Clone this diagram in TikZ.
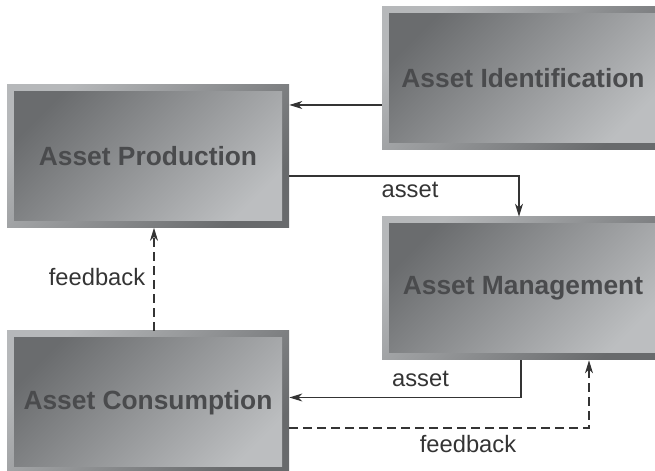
\documentclass[tikz,border=0pt]{standalone}
\usepackage{fontspec}
\setmainfont{Liberation Sans}
\usepackage{tikz}
\usetikzlibrary{arrows.meta,positioning,calc}
\definecolor{framelt}{RGB}{182,184,186}
\definecolor{framedk}{RGB}{104,106,108}
\definecolor{boxdk}{RGB}{106,108,110}
\definecolor{boxlt}{RGB}{188,190,192}
\definecolor{boxtxt}{RGB}{74,75,77}
\definecolor{linecol}{RGB}{52,52,52}
\tikzset{
  stage/.style={minimum width=5.64cm, minimum height=2.86cm, inner sep=0pt,
    top color=framelt, bottom color=framedk, shading angle=45,
    font=\fontsize{15}{18}\selectfont\bfseries, text=boxtxt,
    path picture={\shade[top color=boxdk, bottom color=boxlt, shading angle=45]
      ([shift={(0.14,-0.14)}]path picture bounding box.north west) rectangle
      ([shift={(-0.14,0.14)}]path picture bounding box.south east);}},
  flow/.style={-{Stealth[length=2.6mm, width=1.6mm, inset=0.8mm]}, linecol, line width=0.6pt},
  fback/.style={flow, dash pattern=on 0.18cm off 0.1cm},
  lbl/.style={font=\fontsize{13.5}{16}\selectfont, text=linecol, anchor=base, inner sep=0pt},
}
\begin{document}
\begin{tikzpicture}
\useasboundingbox (0,0) rectangle (13.1,9.42);
\clip (0,0) rectangle (13.1,9.42);
%---- stages
\node[stage] (prod)  at (2.96,6.30)  {Asset Production};
\node[stage] (ident) at (10.46,7.85) {Asset Identification};
\node[stage] (mgmt)  at (10.46,3.65) {Asset Management};
\node[stage] (cons)  at (2.96,1.37)  {Asset Consumption};
%---- asset flow
\draw[flow] ([yshift=-0.53cm]ident.west) -- ([yshift=-0.53cm]ident.west -| prod.east);
\draw[flow] ([yshift=-0.40cm]prod.east) -| ([xshift=-0.08cm]mgmt.north);
\draw[flow] ([xshift=-0.04cm]mgmt.south) |- ([yshift=0.10cm]cons.east);
\node[lbl] (asset1) at (8.20,5.46) {asset};
\node[lbl] (asset2) at (8.41,1.68) {asset};
%---- feedback
\draw[fback] ([xshift=0.12cm]cons.north) -- ([xshift=0.12cm]prod.south);
\draw[fback] ([yshift=-0.51cm]cons.east) -| ([xshift=1.32cm]mgmt.south);
\node[lbl] (fb1) at (1.94,3.70) {feedback};
\node[lbl] (fb2) at (9.36,0.36) {feedback};
\end{tikzpicture}
\end{document}
